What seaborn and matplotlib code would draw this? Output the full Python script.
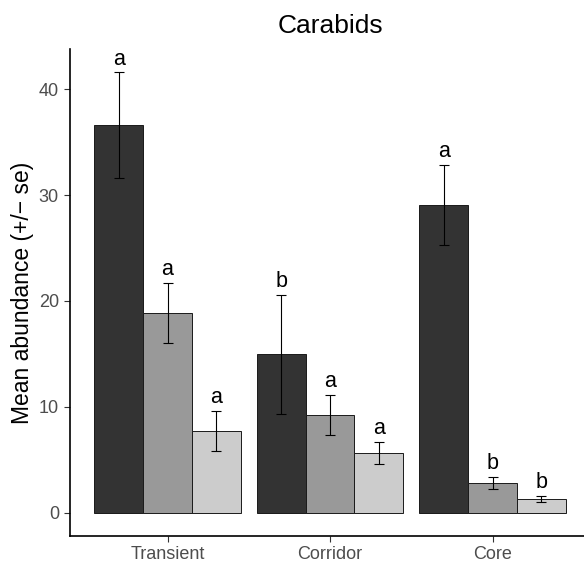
import matplotlib
matplotlib.use("Agg")
import matplotlib.pyplot as plt
from matplotlib.container import BarContainer
import seaborn as sns
import pandas as pd
import numpy as np

sites = ["Transient", "Corridor", "Core"]
groups = ["G1", "G2", "G3"]
mean_g1 = [36.6, 14.95, 29.1]
mean_g2 = [18.9, 9.25, 2.82]
mean_g3 = [7.75, 5.66, 1.30]
se_g1 = [5.0, 5.63, 3.77]
se_g2 = [2.83, 1.88, 0.58]
se_g3 = [1.89, 1.06, 0.30]
let_g1 = ["a", "b", "a"]
let_g2 = ["a", "a", "b"]
let_g3 = ["a", "a", "b"]
colors = ["#333333", "#999999", "#CCCCCC"]

rows = []
for g, m, s, l in zip(groups, [mean_g1, mean_g2, mean_g3], [se_g1, se_g2, se_g3],
                      [let_g1, let_g2, let_g3]):
    for site, mv, sv, lv in zip(sites, m, s, l):
        rows.append(dict(site=site, group=g, mean=mv, se=sv, letter=lv))
df = pd.DataFrame(rows)

sns.set_theme(style="white")
plt.rcParams["font.family"] = ["Liberation Sans", "DejaVu Sans"]

fig = plt.figure(figsize=(5.84, 5.67), dpi=100)
ax = fig.add_axes([70 / 584, 1 - 536 / 567, 520 / 584, (536 - 49) / 567])

sns.barplot(data=df, x="site", y="mean", hue="group", order=sites, hue_order=groups,
            palette=colors, width=0.9, errorbar=None, edgecolor="#1a1a1a",
            linewidth=0.7, saturation=1, legend=False, ax=ax)

bar_conts = [c for c in ax.containers if isinstance(c, BarContainer)]
for gi, cont in enumerate(bar_conts):
    g = groups[gi]
    for bar in cont:
        xc = bar.get_x() + bar.get_width() / 2
        si = int(round(xc))
        row = df[(df.group == g) & (df.site == sites[si])].iloc[0]
        ax.errorbar(xc, row["mean"], yerr=row["se"], fmt="none", ecolor="black",
                    elinewidth=0.8, capsize=3.8, capthick=0.8, zorder=5)
        ax.annotate(row["letter"], (xc, row["mean"] + row["se"]),
                    xytext=(0, 5.5), textcoords="offset points",
                    ha="center", va="baseline", fontsize=15.5, color="black")

ax.set_xlim(-0.6, 2.6)
ax.set_ylim(-2.2, 43.8)
ax.set_yticks([0, 10, 20, 30, 40])

for side in ["top", "right"]:
    ax.spines[side].set_visible(False)
for side in ["left", "bottom"]:
    ax.spines[side].set_color("black")
    ax.spines[side].set_linewidth(1.2)

ax.tick_params(axis="both", which="major", length=4, width=0.8, color="#333333",
               labelcolor="#4d4d4d", labelsize=13, left=True, bottom=True)
ax.tick_params(axis="y", pad=4)
ax.tick_params(axis="x", pad=3)

ax.set_xlabel("")
ax.set_ylabel("Mean abundance (+/\u2212 se)", fontsize=16.5, color="black")
ax.yaxis.set_label_coords((34 - 70) / 520, 0.5)
ax.set_title("Carabids", fontsize=19, color="black", pad=11.5)

fig.savefig("out.png", dpi=100)
